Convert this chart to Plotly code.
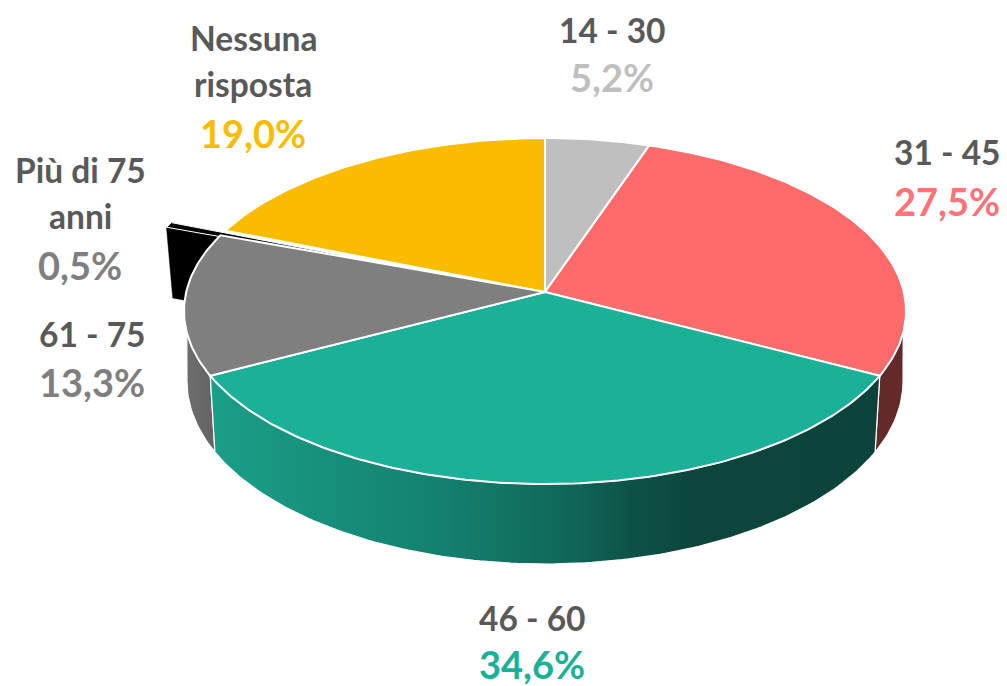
import math
import numpy as np
import plotly.graph_objects as go

# ---- data ----
categories = ["14 - 30", "31 - 45", "46 - 60", "61 - 75", "Più di 75<br>anni", "Nessuna<br>risposta"]
values = [5.2, 27.5, 34.6, 13.3, 0.5, 19.0]

# ---- styles ----
face_colors = ["#bfbfbf", "#ff6b6b", "#1bb198", "#7f7f7f", "#000000", "#fbbc00"]
value_colors = ["#bfbfbf", "#ff7379", "#1bb198", "#7f7f7f", "#7f7f7f", "#fbbc00"]
label_color = "#595959"
FONT = "Lato, 'Open Sans', sans-serif"
FS = 33.5
FS_VALUE = 38

# ---- projection of the pie disc (perspective) ----
CX, CY = 545.0, 292.0
A, B, P = 358.8, 170.9, 0.11
BOT_A, BOT_K, BOT_P, BOT_CY = 356.4, 181.0, 0.095, 364.0
EXPLODE = (-54.0, -8.0)
EXPLODE_BOT = (-48.3, -5.6)


def rim(f, bottom=False):
    f = np.asarray(f, dtype=float)
    t = 2 * np.pi * f
    u, v = np.sin(t), np.cos(t)
    if bottom:
        w = 1 + BOT_P * v
        return CX + BOT_A * u / w, BOT_CY - BOT_K * v / w
    w = 1 + P * v
    return CX + A * u / w, CY - B * v / w


def arc(f0, f1, bottom=False):
    n = max(int(abs(f1 - f0) * 400), 2)
    return rim(np.linspace(f0, f1, n), bottom)


edges = np.minimum(np.concatenate([[0], np.cumsum(values)]) / 100.0, 1.0)
WHITE = dict(color="white", width=2)
WALL = dict(color="white", width=1.2)
fig = go.Figure()


def poly(x, y, color=None, line=WHITE, gradient=None):
    kw = dict(fillgradient=gradient) if gradient else dict(fillcolor=color)
    fig.add_trace(go.Scatter(x=list(x), y=list(y), mode="lines", fill="toself",
                             line=line, hoverinfo="skip", showlegend=False, **kw))


# side walls
ox, oy = rim(edges[4])
apex_x, apex_y = CX + EXPLODE[0], CY + EXPLODE[1]
bx, by = rim(edges[4], True)
poly([ox + EXPLODE[0], bx + EXPLODE_BOT[0], apex_x, apex_x, ox + EXPLODE[0]],
     [oy + EXPLODE[1], by + EXPLODE_BOT[1], apex_y + 72, apex_y, oy + EXPLODE[1]],
     color=face_colors[4], line=dict(color="black", width=0.5))

# grey wall
tx, ty = arc(edges[3], 0.713)
lx, ly = arc(0.735, edges[3], True)
poly(np.r_[tx, lx, tx[0]], np.r_[ty, ly, ty[0]], line=WALL,
     gradient=dict(type="horizontal", start=185, stop=215,
                   colorscale=[[0, "#6e6e6e"], [1, "#636363"]]))

# pink wall
tx, ty = arc(0.287, edges[2])
lx, ly = arc(edges[2], 0.265, True)
poly(np.r_[tx, lx, tx[0]], np.r_[ty, ly, ty[0]], color="#642a2a", line=WALL)

# teal wall
tx, ty = arc(edges[2], edges[3])
lx, ly = arc(edges[3], edges[2], True)
poly(np.r_[tx, lx, tx[0]], np.r_[ty, ly, ty[0]], line=WALL,
     gradient=dict(type="horizontal", start=209, stop=880,
                   colorscale=[[0, "#1a9f88"], [0.35, "#14806e"], [0.55, "#0f6556"],
                               [0.63, "#0d5247"], [0.72, "#0c463d"], [1, "#0b433a"]]))

# top faces
for i in [0, 1, 2, 5]:
    x, y = arc(edges[i], edges[i + 1])
    poly(np.r_[CX, x, CX], np.r_[CY, y, CY], color=face_colors[i])

# exploded slice
x, y = arc(edges[4], edges[5])
poly(np.r_[apex_x, x + EXPLODE[0], apex_x], np.r_[apex_y, y + EXPLODE[1], apex_y],
     color=face_colors[4], line=dict(color="white", width=1))

# grey top face (sits over the exploded slice)
x, y = arc(edges[3], edges[4])
poly(np.r_[CX, x, CX], np.r_[CY, y, CY], color=face_colors[3])

# ---- labels ----
label_pos = [(612, 30, 47), (947, 152, 49), (532, 618, 46), (92, 334, 48), (80, 170, 46), (253, 38, 46)]
for name, val, vcol, (lx_, ly_, dy) in zip(categories, values, value_colors, label_pos):
    lines = name.split("<br>")
    for j, line in enumerate(lines):
        fig.add_annotation(x=lx_, y=ly_ + j * dy, text=f"<b>{line}</b>", showarrow=False,
                           xanchor="center", yanchor="middle",
                           font=dict(family=FONT, size=FS, color=label_color))
    fig.add_annotation(x=lx_, y=ly_ + len(lines) * dy + (3 if len(lines) > 1 else 0),
                       text=f"<b>{val:.1f}%</b>".replace(".", ","), showarrow=False,
                       xanchor="center", yanchor="middle", height=40,
                       font=dict(family=FONT, size=FS_VALUE, color=vcol))

fig.update_layout(width=1007, height=686, margin=dict(l=0, r=0, t=0, b=0),
                  paper_bgcolor="white", plot_bgcolor="white", showlegend=False,
                  xaxis=dict(range=[0, 1007], visible=False, fixedrange=True),
                  yaxis=dict(range=[686, 0], visible=False, fixedrange=True))
fig.write_html("out.html", config=dict(displayModeBar=False),
               post_script="document.body.style.margin='0';document.body.style.overflow='hidden';")
